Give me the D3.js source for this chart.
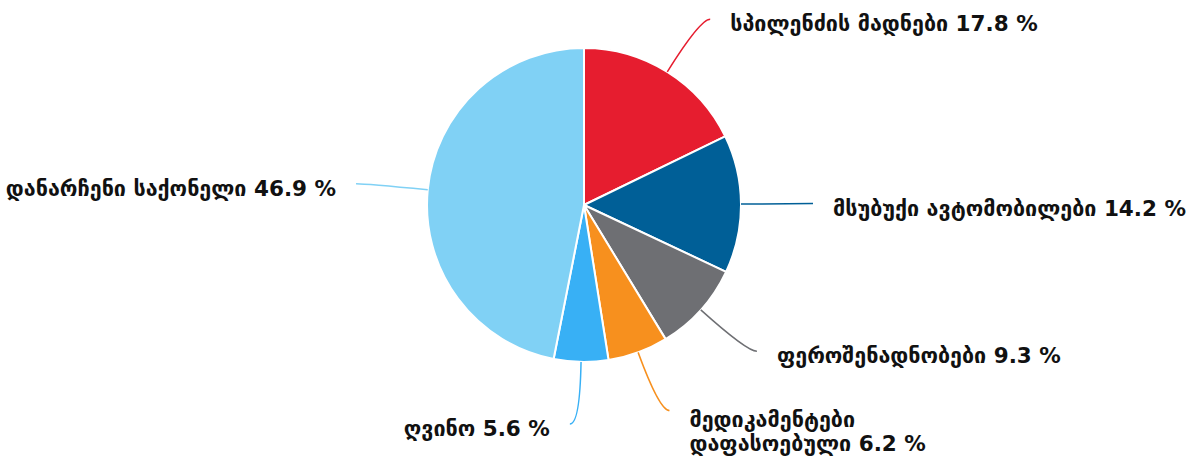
<!DOCTYPE html>
<html>
<head>
<meta charset="utf-8">
<script src="https://cdn.jsdelivr.net/npm/d3@7"></script>
<style>
  html, body { margin: 0; padding: 0; background: #fff; }
  svg { display: block; }
  .label { font-family: "DejaVu Sans", sans-serif; font-weight: bold; font-size: 21.5px; fill: #111; }
</style>
</head>
<body>
<div id="chart"></div>
<script>
// data (share of exports, %)
const categories = [
  "სპილენძის მადნები",
  "მსუბუქი ავტომობილები",
  "ფეროშენადნობები",
  "მედიკამენტები\nდაფასოებული",
  "ღვინო",
  "დანარჩენი საქონელი"
];
const values = [17.8, 14.2, 9.3, 6.2, 5.6, 46.9];
const colors = ["#e61d2f", "#005f97", "#6e6f73", "#f7901e", "#38b0f5", "#80d1f5"];

const width = 1199, height = 458;
const cx = 584, cy = 205, radius = 157;
const crook = 62;     // how far past the edge the connector bends
const tail = 10;      // horizontal bit of the connector
const gap = 20;       // connector end to text
const lineHeight = 24;

const svg = d3.select("#chart").append("svg")
    .attr("width", width)
    .attr("height", height);

const g = svg.append("g")
    .attr("transform", `translate(${cx},${cy})`);

const data = categories.map((name, i) => ({name, value: values[i], color: colors[i]}));

const pie = d3.pie()
    .sort(null)
    .value(d => d.value);

const arc = d3.arc()
    .innerRadius(0)
    .outerRadius(radius);

const arcs = pie(data);

g.selectAll("path.slice")
  .data(arcs)
  .join("path")
    .classed("slice", true)
    .attr("d", arc)
    .attr("fill", d => d.data.color)
    .attr("stroke", "#fff")
    .attr("stroke-width", 2)
    .attr("stroke-linejoin", "round");

// angle measured clockwise from 12 o'clock
const polar = (r, a) => [r * Math.sin(a), -r * Math.cos(a)];
const mid = d => (d.startAngle + d.endAngle) / 2;
const side = d => mid(d) < Math.PI ? 1 : -1;

const label_points = d => {
  const a = mid(d);
  const p0 = polar(radius, a);
  const c = polar(radius + crook, a);
  const p1 = [c[0] + side(d) * tail, c[1]];
  return {p0, c, p1};
};

g.selectAll("path.connector")
  .data(arcs)
  .join("path")
    .classed("connector", true)
    .attr("d", d => {
      const {p0, c, p1} = label_points(d);
      const path = d3.path();
      path.moveTo(p0[0], p0[1]);
      path.quadraticCurveTo(c[0], c[1], p1[0], p1[1]);
      return path.toString();
    })
    .attr("fill", "none")
    .attr("stroke", d => d.data.color)
    .attr("stroke-width", 1.5);

const labels = g.selectAll("text.label")
  .data(arcs)
  .join("text")
    .classed("label", true)
    .attr("text-anchor", d => side(d) > 0 ? "start" : "end")
    .attr("x", d => label_points(d).p1[0] + side(d) * gap)
    .attr("y", d => {
      const lines = d.data.name.split("\n").length;
      return label_points(d).p1[1] + (lines > 1 ? 16 : 12);
    });

labels.each(function(d) {
  const lines = d.data.name.split("\n");
  lines[lines.length - 1] += ` ${d.data.value} %`;
  const x = d3.select(this).attr("x");
  d3.select(this).selectAll("tspan")
    .data(lines)
    .join("tspan")
      .attr("x", x)
      .attr("dy", (t, i) => i === 0 ? 0 : lineHeight)
      .text(t => t);
});
</script>
</body>
</html>
